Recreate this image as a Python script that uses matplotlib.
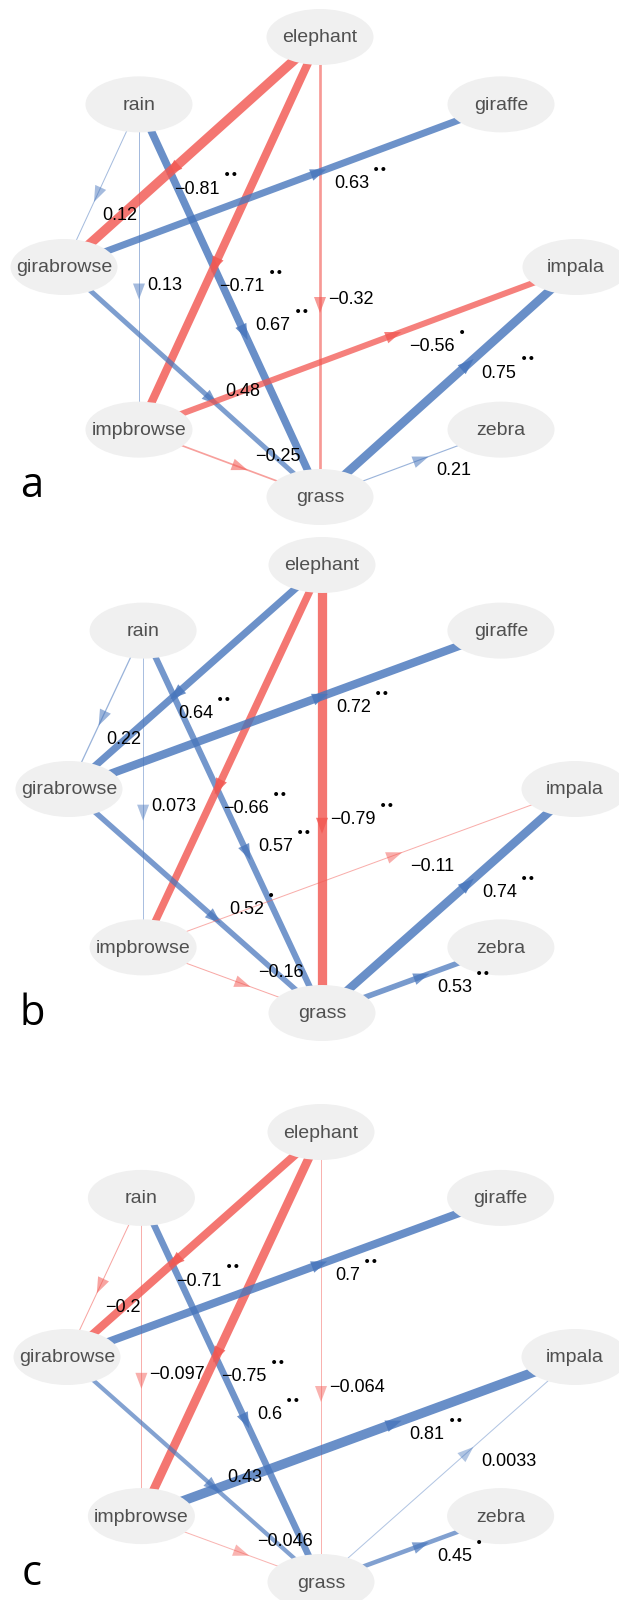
import numpy as np
import matplotlib.pyplot as plt
from matplotlib.patches import Ellipse, Polygon

# nodes on an ellipse (angle in degrees, counter-clockwise from the right)
nodes = ["elephant", "giraffe", "impala", "zebra", "grass", "impbrowse", "girabrowse", "rain"]
angles = [90, 45, 0, -45, -90, -135, 180, 135]

edges = [("rain", "girabrowse"), ("rain", "impbrowse"), ("rain", "grass"),
         ("elephant", "girabrowse"), ("elephant", "impbrowse"), ("elephant", "grass"),
         ("girabrowse", "giraffe"), ("girabrowse", "grass"),
         ("impbrowse", "impala"), ("grass", "impala"), ("grass", "zebra"),
         ("impbrowse", "grass")]

coef_a = [0.12, 0.13, 0.67, -0.81, -0.71, -0.32, 0.63, 0.48, -0.56, 0.75, 0.21, -0.25]
sig_a = ["", "", "**", "**", "**", "", "**", "", "*", "**", "", ""]

coef_b = [0.22, 0.073, 0.57, 0.64, -0.66, -0.79, 0.72, 0.52, -0.11, 0.74, 0.53, -0.16]
sig_b = ["", "", "**", "**", "**", "**", "**", "*", "", "**", "**", ""]

coef_c = [-0.2, -0.097, 0.6, -0.71, -0.75, -0.064, 0.7, 0.43, 0.81, 0.0033, 0.45, -0.046]
sig_c = ["", "", "**", "**", "**", "", "**", "", "**", "", "*", ""]

panel_letters = ["a", "b", "c"]

BLUE = (72/255, 118/255, 188/255)
RED = (242/255, 88/255, 82/255)

fig = plt.figure(figsize=(6.19, 16), dpi=100)
ax = fig.add_axes([0, 0, 1, 1])
ax.set_xlim(0, 619)
ax.set_ylim(1600, 0)
ax.axis("off")


def fmt(v):
    return f"{v:g}".replace("-", "\u2212")


def draw_panel(letter, cx, cy, rx, ry, coefs, sigs, letter_y):
    pos = {}
    for n, a in zip(nodes, angles):
        t = np.deg2rad(a)
        pos[n] = (cx + rx * np.cos(t), cy - ry * np.sin(t))

    for (s, e), v, sg in zip(edges, coefs, sigs):
        x0, y0 = pos[s]
        x1, y1 = pos[e]
        col = BLUE if v > 0 else RED
        w_px = 1.0 + 14 * max(0, abs(v) - 0.2)
        alpha = min(0.82, 0.42 + 0.6 * abs(v))
        ax.plot([x0, x1], [y0, y1], color=col, lw=w_px * 0.72, alpha=alpha,
                solid_capstyle="butt", zorder=2)
        # arrow head at 60% of the way
        tx, ty = x0 + 0.6 * (x1 - x0), y0 + 0.6 * (y1 - y0)
        d = np.array([x1 - x0, y1 - y0])
        d = d / np.hypot(*d)
        p = np.array([-d[1], d[0]])
        base = np.array([tx, ty]) - 16 * d
        tri = [(tx, ty), tuple(base + 6 * p), tuple(base - 6 * p)]
        ax.add_patch(Polygon(tri, closed=True, facecolor=col, edgecolor="none",
                             alpha=alpha, zorder=2))
        # label
        above = (y1 - y0) > 0 and (x1 - x0) >= -3
        ly = ty - 14 if above else ty + 14
        t = ax.text(tx + 8, ly, fmt(v), ha="left", va="center", fontsize=13,
                    family="Liberation Sans", color="black", zorder=5)
        if sg:
            ax.annotate("\u2022" * len(sg), xy=(1, 1), xycoords=t, xytext=(3, 5),
                        textcoords="offset pixels", ha="left", va="center",
                        fontsize=10, family="DejaVu Sans", color="black", zorder=5)

    for n in nodes:
        ax.add_patch(Ellipse(pos[n], 107, 56, facecolor="#f0f0f0", edgecolor="none", zorder=3))
        ax.text(pos[n][0], pos[n][1] + 1, n, ha="center", va="center", fontsize=14,
                family="Liberation Sans", color="#505050", zorder=4)

    ax.text(32, letter_y, letter, ha="center", va="baseline", fontsize=30,
            family="Open Sans", color="black", zorder=5)


draw_panel(panel_letters[0], 320, 267, 256, 230, coef_a, sig_a, 497)
draw_panel(panel_letters[1], 322, 789, 253, 224, coef_b, sig_b, 1025)
draw_panel(panel_letters[2], 321, 1357, 254, 225, coef_c, sig_c, 1585)

fig.savefig("out.png", dpi=100)
